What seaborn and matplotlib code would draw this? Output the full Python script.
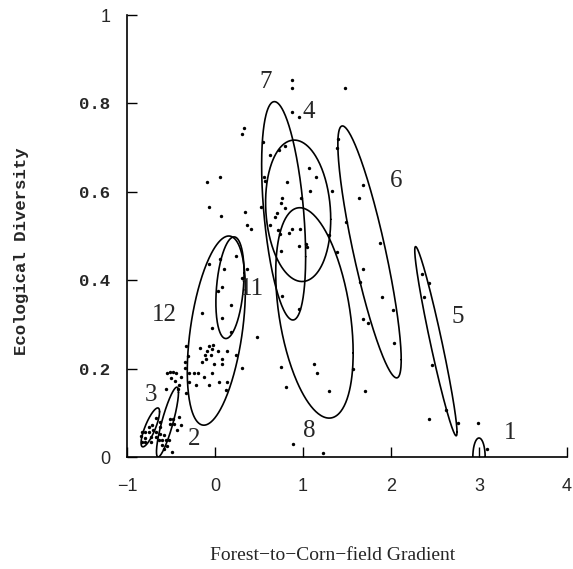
import numpy as np
import pandas as pd
import matplotlib
matplotlib.use('Agg')
import matplotlib.pyplot as plt
import seaborn as sns

# sampled sites: position on the gradient and ecological diversity
site_x = [0.88, 0.88, 1.48, 0.88, 0.95, 0.54, 0.33, 0.31, 0.62, 0.73, 0.80, 0.56, 0.57, 0.82,
          1.07, 1.15, 1.08, 1.33, -0.09, 0.06, -0.07, 0.07, 0.34, 0.36, 0.41, 0.52, 0.76, 0.75,
          0.98, 0.70, 0.68, 0.79, 0.62, 0.72, 0.74, 0.84, 0.88, 0.97, 1.04, 1.39, 1.40, 1.68,
          1.64, 1.49, 0.95, 0.75, 1.03, 1.29, 1.39, 1.88, 0.24, 0.06,
          1.68, 1.65, 1.90, 2.02, 0.76, 0.95, 1.68, 1.74, 2.03, 0.48, 0.75, 1.12, 1.16, 1.57,
          0.81, 1.29, 1.71, 0.89, 1.23, 2.35, 2.43, 2.38, 2.47, 2.63, 2.43, 2.76, 2.99, 3.09,
          -0.07, 0.10, 0.36, 0.31, 0.03, 0.08, 0.18, -0.15, 0.08, -0.03, 0.18, -0.33, -0.31,
          -0.17, -0.07, -0.02, -0.09, -0.03, -0.11, -0.05, 0.03, 0.14, 0.24, -0.15, -0.10,
          -0.01, 0.08, 0.08, 0.31, -0.34, -0.54, -0.44, -0.50, -0.39, -0.34, -0.30, -0.24,
          -0.19, -0.29, -0.22, -0.07, -0.13, -0.03, 0.05, 0.14, 0.13, -0.33, -0.56, -0.42,
          -0.46, -0.41, -0.51, -0.48,
          -0.67, -0.62, -0.62, -0.51, -0.48, -0.51, -0.47, -0.41, -0.39, -0.43, -0.72, -0.70,
          -0.83, -0.79, -0.75, -0.67, -0.84, -0.80, -0.73, -0.67, -0.83, -0.79, -0.73, -0.64,
          -0.60, -0.56, -0.52, -0.60, -0.55, -0.58, -0.49, -0.62, -0.58, -0.75]
site_y = [0.853, 0.835, 0.835, 0.780, 0.770, 0.713, 0.744, 0.731, 0.683, 0.695, 0.704, 0.634,
          0.624, 0.622, 0.654, 0.634, 0.602, 0.602, 0.622, 0.634, 0.566, 0.545, 0.554, 0.525,
          0.516, 0.566, 0.586, 0.575, 0.586, 0.552, 0.543, 0.563, 0.525, 0.514, 0.505, 0.507,
          0.516, 0.516, 0.475, 0.700, 0.720, 0.615, 0.586, 0.532, 0.477, 0.466, 0.482, 0.502,
          0.464, 0.484, 0.455, 0.448,
          0.425, 0.396, 0.362, 0.333, 0.364, 0.335, 0.312, 0.303, 0.258, 0.271, 0.204, 0.210,
          0.190, 0.199, 0.158, 0.149, 0.149, 0.029, 0.009, 0.414, 0.394, 0.362, 0.208, 0.106,
          0.086, 0.077, 0.077, 0.018,
          0.437, 0.425, 0.425, 0.405, 0.376, 0.385, 0.344, 0.326, 0.315, 0.292, 0.283, 0.251,
          0.228, 0.247, 0.251, 0.253, 0.240, 0.244, 0.231, 0.231, 0.240, 0.240, 0.231, 0.215,
          0.222, 0.210, 0.222, 0.210, 0.201, 0.215, 0.190, 0.190, 0.179, 0.181, 0.201, 0.190,
          0.190, 0.190, 0.170, 0.163, 0.163, 0.181, 0.190, 0.170, 0.170, 0.152, 0.145, 0.154,
          0.154, 0.172, 0.163, 0.192, 0.192,
          0.088, 0.079, 0.068, 0.086, 0.086, 0.075, 0.075, 0.090, 0.072, 0.061, 0.072, 0.061,
          0.057, 0.057, 0.057, 0.057, 0.048, 0.043, 0.045, 0.045, 0.034, 0.034, 0.034, 0.038,
          0.038, 0.038, 0.038, 0.027, 0.025, 0.018, 0.011, 0.052, 0.050, 0.068]

# habitat groups: centre, spread along each axis, correlation
group_id = ['1', '2', '3', '4', '5', '6', '7', '8', '11', '12']
group_cx = [3.00, -0.54, -0.735, 0.945, 2.51, 1.756, 0.78, 1.13, 0.17, 0.015]
group_cy = [0.000, 0.079, 0.067, 0.557, 0.262, 0.464, 0.557, 0.326, 0.383, 0.286]
group_sx = [0.07, 0.125, 0.105, 0.37, 0.24, 0.36, 0.25, 0.44, 0.16, 0.33]
group_sy = [0.043, 0.079, 0.044, 0.16, 0.214, 0.285, 0.247, 0.238, 0.115, 0.214]
group_rho = [0.0, 0.85, 0.8, -0.12, -0.96, -0.855, -0.42, -0.38, 0.29, 0.43]
label_x = [3.35, -0.24, -0.73, 1.06, 2.76, 2.06, 0.57, 1.07, 0.42, -0.57]
label_y = [0.054, 0.040, 0.140, 0.780, 0.317, 0.624, 0.848, 0.059, 0.380, 0.321]

sites = pd.DataFrame({'gradient': site_x, 'diversity': site_y})

sns.set_style('ticks')
fig = plt.figure(figsize=(5.73, 5.69), dpi=100)
ax = fig.add_axes([127 / 573, 112 / 569, 440 / 573, 442 / 569])

sns.scatterplot(data=sites, x='gradient', y='diversity', color='black', s=6,
                linewidth=0, ax=ax, zorder=3)

t = np.linspace(0, 2 * np.pi, 300)
for i in range(len(group_id)):
    ex = group_cx[i] + group_sx[i] * np.cos(t)
    ey = group_cy[i] + group_sy[i] * (group_rho[i] * np.cos(t)
                                      + np.sqrt(1 - group_rho[i] ** 2) * np.sin(t))
    ax.plot(ex, ey, color='black', lw=1.2)
    ax.text(label_x[i], label_y[i], group_id[i], ha='center', va='center',
            fontsize=18, family=['Liberation Serif', 'DejaVu Serif'])

ax.set_xlim(-1, 4)
ax.set_ylim(0, 1)
ax.set_xticks([-1, 0, 1, 2, 3, 4])
ax.set_xticklabels(['\u22121', '0', '1', '2', '3', '4'])
ax.set_yticks([0, 0.2, 0.4, 0.6, 0.8, 1])
ax.set_yticklabels(['0', '0.2', '0.4', '0.6', '0.8', '1'])
sns.despine(ax=ax)
for s in ['left', 'bottom']:
    ax.spines[s].set_linewidth(1.2)
    ax.spines[s].set_color('black')
ax.tick_params(direction='in', length=7, width=1, color='black')
ax.tick_params(axis='x', pad=15, labelsize=13)
ax.tick_params(axis='y', pad=12)
for lab in ax.get_xticklabels():
    lab.set_family(['Liberation Sans', 'DejaVu Sans'])
for lab in ax.get_yticklabels():
    if lab.get_text() in ('0', '1'):
        lab.set_family(['Liberation Sans', 'DejaVu Sans'])
        lab.set_fontsize(13)
    else:
        lab.set_family(['Liberation Mono', 'DejaVu Sans Mono'])
        lab.set_fontweight('bold')
        lab.set_fontsize(12.5)
ax.set_xlabel('')
ax.set_ylabel('')

fig.text(22 / 573, 1 - 251 / 569, 'Ecological Diversity', rotation=90, ha='center',
         va='center', fontsize=12.5, fontweight='bold',
         family=['Liberation Mono', 'DejaVu Sans Mono'])
fig.text(333 / 573, 1 - 556 / 569, 'Forest\u2212to\u2212Corn\u2212field Gradient',
         ha='center', va='center', fontsize=14,
         family=['Liberation Serif', 'DejaVu Serif'])

fig.savefig('out.png', dpi=100)
